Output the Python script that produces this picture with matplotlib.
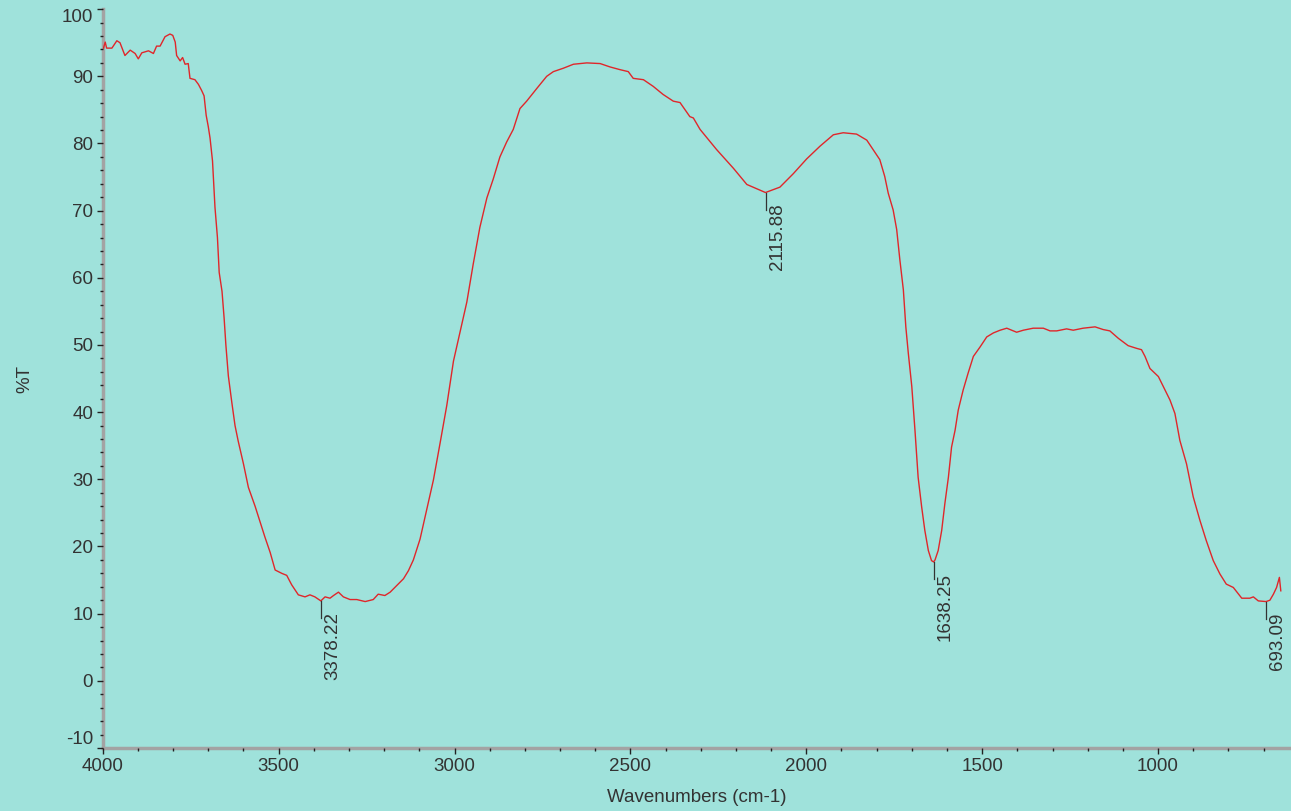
import matplotlib
matplotlib.use("Agg")
import matplotlib.pyplot as plt
from matplotlib.ticker import MultipleLocator

# FT-IR spectrum
wavenumber = [3998, 3993, 3989, 3974, 3960, 3951, 3937, 3922, 3908, 3899, 3889, 3870, 3856,
              3847, 3837, 3823, 3809, 3801, 3794, 3790, 3780, 3773, 3766, 3757, 3752, 3738,
              3728, 3719, 3712, 3706, 3700, 3695, 3688, 3681, 3674, 3669, 3661, 3655, 3650,
              3643, 3633, 3624, 3615, 3600, 3586, 3567, 3553, 3539, 3524, 3510, 3491, 3477,
              3463, 3444, 3425, 3411, 3397, 3380, 3368, 3354, 3344, 3330, 3316, 3297, 3278,
              3254, 3231, 3217, 3198, 3183, 3164, 3145, 3131, 3117, 3098, 3079, 3060, 3041,
              3022, 3003, 2984, 2965, 2947, 2928, 2908, 2890, 2871, 2852, 2833, 2814, 2795,
              2766, 2738, 2719, 2691, 2662, 2624, 2586, 2558, 2530, 2506, 2492, 2463, 2435,
              2407, 2378, 2359, 2331, 2321, 2302, 2255, 2207, 2169, 2116, 2075, 2037, 1999,
              1961, 1923, 1895, 1857, 1828, 1791, 1777, 1767, 1753, 1743, 1734, 1724, 1717,
              1710, 1700, 1691, 1682, 1672, 1663, 1653, 1644, 1638, 1634, 1625, 1615, 1606,
              1596, 1587, 1577, 1568, 1554, 1540, 1525, 1506, 1487, 1468, 1449, 1430, 1416,
              1402, 1383, 1355, 1326, 1307, 1288, 1260, 1241, 1213, 1179, 1156, 1137, 1113,
              1085, 1061, 1047, 1037, 1023, 999, 985, 966, 952, 938, 919, 900, 881, 863, 843,
              824, 806, 786, 762, 739, 729, 715, 693, 682, 672, 663, 655, 651]
transmittance = [94.2, 95.1, 94.2, 94.2, 95.3, 95.0, 93.1, 93.9, 93.4, 92.6, 93.5, 93.8, 93.4,
                 94.5, 94.5, 95.9, 96.3, 96.1, 95.1, 93.1, 92.3, 92.8, 91.8, 91.9, 89.7, 89.5,
                 88.8, 87.9, 87.1, 84.2, 82.5, 80.8, 77.4, 70.5, 66.0, 60.8, 58.0, 54.0, 50.0,
                 45.4, 41.4, 38.0, 35.7, 32.3, 28.8, 26.0, 23.7, 21.4, 19.1, 16.5, 16.0, 15.7,
                 14.3, 12.8, 12.5, 12.8, 12.5, 11.9, 12.5, 12.3, 12.7, 13.2, 12.5, 12.1, 12.1,
                 11.8, 12.1, 12.9, 12.7, 13.2, 14.2, 15.2, 16.4, 18.0, 21.1, 25.5, 29.9, 35.4,
                 41.0, 47.6, 52.0, 56.4, 62.0, 67.5, 71.9, 74.7, 78.0, 80.2, 82.1, 85.2, 86.3,
                 88.2, 90.0, 90.7, 91.2, 91.8, 92.0, 91.9, 91.4, 91.0, 90.7, 89.7, 89.5, 88.5,
                 87.3, 86.3, 86.1, 84.0, 83.8, 82.1, 79.1, 76.3, 73.9, 72.7, 73.5, 75.5, 77.7,
                 79.6, 81.3, 81.6, 81.4, 80.5, 77.6, 75.1, 72.6, 70.1, 67.2, 62.7, 58.2, 52.7,
                 48.8, 43.8, 37.3, 30.3, 25.9, 22.4, 19.4, 17.9, 17.7, 18.0, 19.4, 22.4, 26.4,
                 30.3, 34.8, 37.3, 40.3, 43.3, 45.8, 48.3, 49.7, 51.2, 51.8, 52.2, 52.5, 52.2,
                 51.9, 52.2, 52.5, 52.5, 52.1, 52.1, 52.4, 52.2, 52.5, 52.7, 52.3, 52.1, 51.0,
                 49.9, 49.5, 49.3, 48.3, 46.5, 45.3, 43.8, 41.8, 39.8, 35.8, 32.3, 27.4, 23.9,
                 20.9, 17.9, 15.9, 14.4, 13.9, 12.3, 12.3, 12.5, 11.9, 11.8, 12.0, 12.9, 13.9,
                 15.4, 13.4]

peak_wn = [3378.22, 2115.88, 1638.25, 693.09]
peak_t = [11.9, 72.7, 17.7, 11.8]
peak_labels = ["3378.22", "2115.88", "1638.25", "693.09"]

bg = "#9fe2db"
txt = "#333333"
plt.rcParams["font.family"] = ["Liberation Sans", "DejaVu Sans"]
plt.rcParams["axes.unicode_minus"] = False

fig = plt.figure(figsize=(12.91, 8.11), dpi=100, facecolor=bg)
ax = fig.add_axes([0.0796, 0.0777, 0.9204, 0.911])
ax.set_facecolor(bg)

ax.plot(wavenumber, transmittance, color="#e0262a", lw=1.0)

# peak picks: short leader below the minimum, value written upward
px_per_wn = 1188.3 / (4000 - 622)
px_per_t = 738 / 110
for w, t, lab in zip(peak_wn, peak_t, peak_labels):
    ax.plot([w, w], [t, t - 17 / px_per_t], color=txt, lw=0.9)
    ax.text(w - 11.5 / px_per_wn, t - 11 / px_per_t, lab, rotation=90,
            ha="center", va="top", fontsize=13.5, color=txt)

ax.set_xlim(4000, 622)
ax.set_ylim(-10, 100)
ax.xaxis.set_major_locator(MultipleLocator(500))
ax.xaxis.set_minor_locator(MultipleLocator(100))
ax.yaxis.set_major_locator(MultipleLocator(10))
ax.yaxis.set_minor_locator(MultipleLocator(2))

for side in ["top", "right"]:
    ax.spines[side].set_visible(False)
for side in ["left", "bottom"]:
    ax.spines[side].set_color("#a3a3a3")
    ax.spines[side].set_linewidth(2.5)
    ax.spines[side].set_zorder(1)

ax.tick_params(which="major", direction="out", length=4.5, width=1, color="#222222",
               labelsize=13.5, labelcolor=txt, pad=2.5)
ax.tick_params(which="minor", direction="out", length=2.2, width=1, color="#222222")

yticks = ax.yaxis.get_major_ticks()
for tk, v in zip(yticks, ax.get_yticks()):
    if abs(v - 100) < 1e-6:
        tk.label1.set_va("top")
    elif abs(v + 10) < 1e-6:
        tk.label1.set_va("bottom")

ax.set_xlabel("Wavenumbers (cm-1)", fontsize=13.5, color=txt, va="center")
ax.xaxis.set_label_coords(0.5, -0.0664)
ax.set_ylabel("%T", fontsize=13.5, color=txt, va="center")
ax.yaxis.set_label_coords(-0.0654, 0.5)

fig.savefig("out.png", dpi=100, facecolor=bg)
